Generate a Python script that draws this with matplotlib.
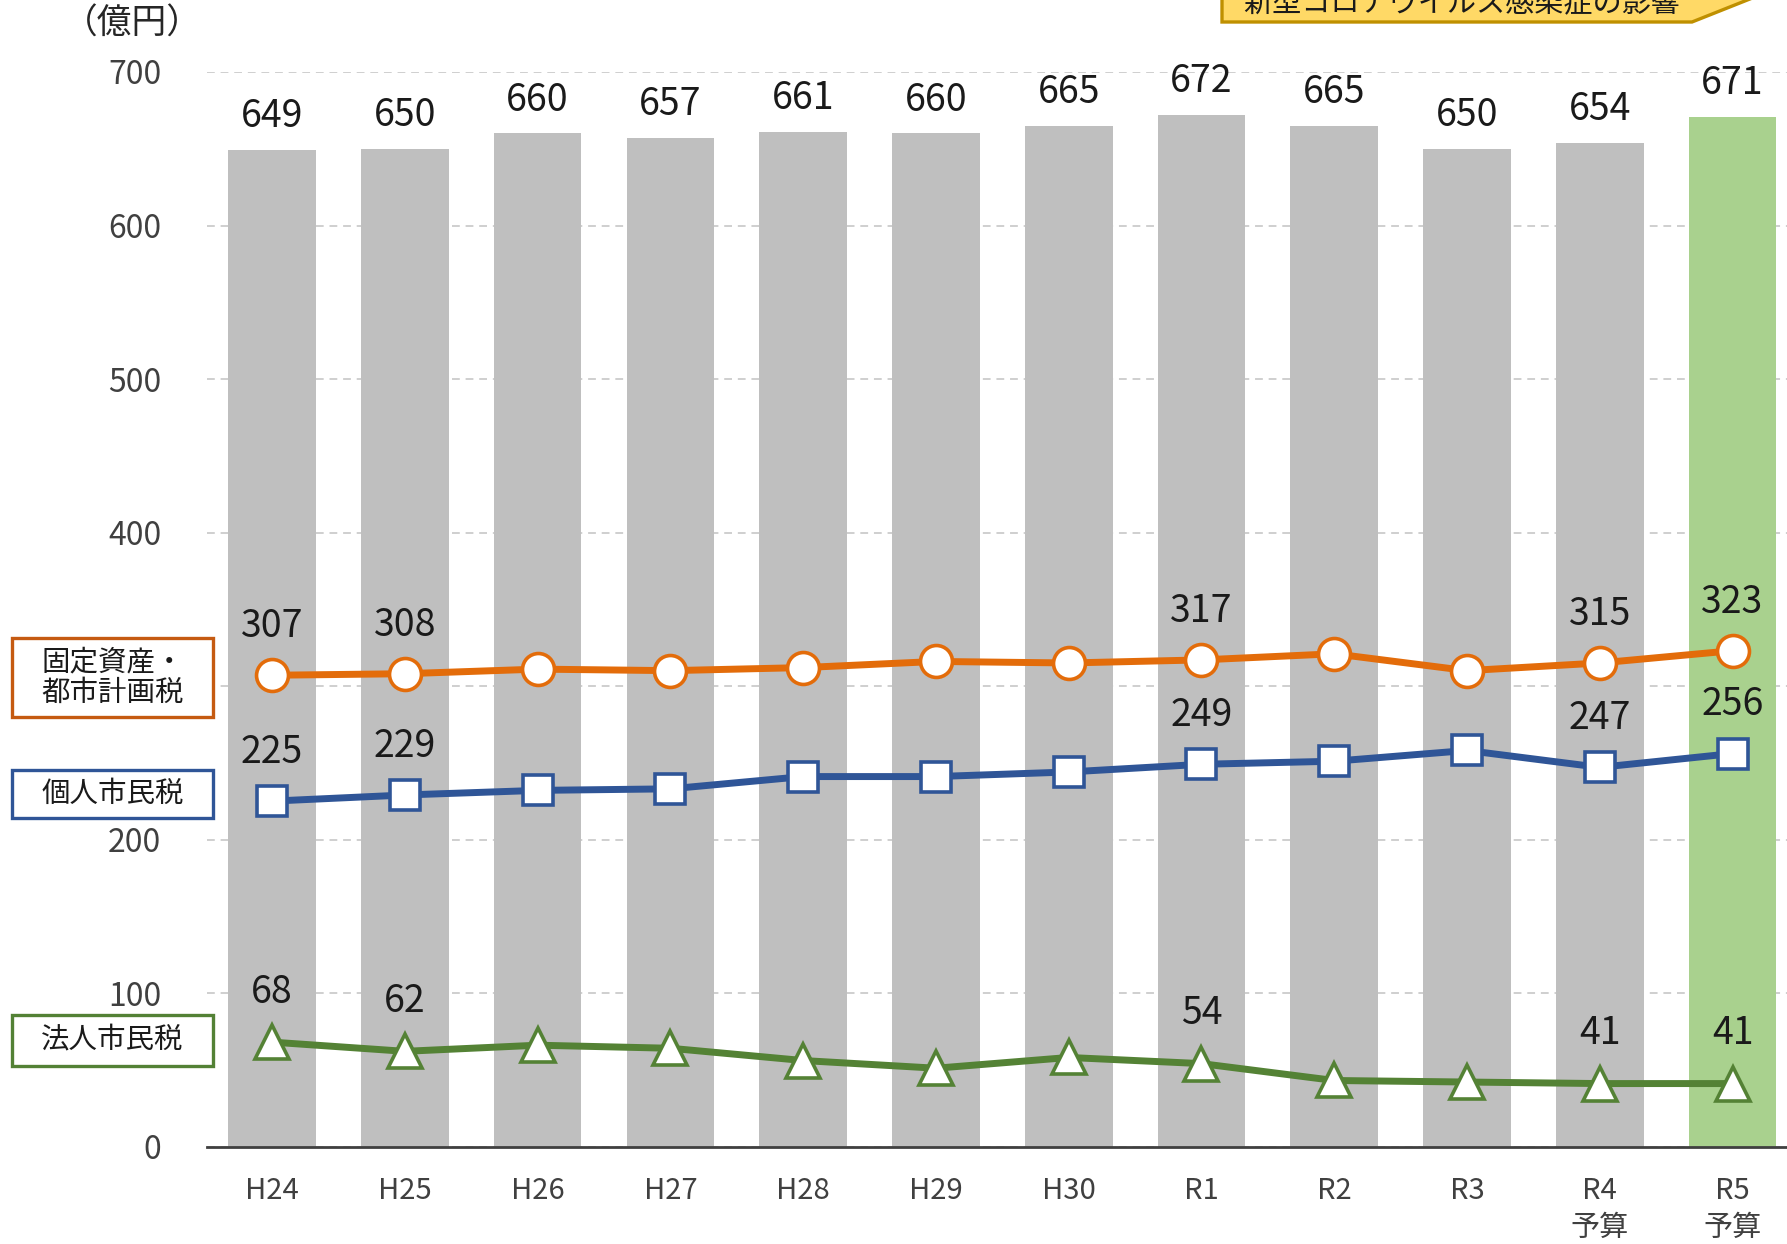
import matplotlib
matplotlib.use("Agg")
import matplotlib.pyplot as plt
from matplotlib.patches import Rectangle, Polygon

plt.rcParams['font.family'] = ['Noto Sans CJK JP', 'DejaVu Sans']

# ---- data (億円) ----
years = ["H24", "H25", "H26", "H27", "H28", "H29", "H30", "R1", "R2", "R3", "R4\n予算", "R5\n予算"]
total = [649, 650, 660, 657, 661, 660, 665, 672, 665, 650, 654, 671]
fixed_asset = [307, 308, 311, 310, 312, 316, 315, 317, 321, 310, 315, 323]
individual = [225, 229, 232, 233, 241, 241, 244, 249, 251, 258, 247, 256]
corporate = [68, 62, 66, 64, 56, 51, 58, 54, 43, 42, 41, 41]
labeled_idx = [0, 1, 7, 10, 11]
y_ticks = [0, 100, 200, 300, 400, 500, 600, 700]
y_tick_labels = ["0", "100", "200", "", "400", "500", "600", "700"]  # 300 sits behind the name box

W, H = 1787, 1244
fig = plt.figure(figsize=(W / 100, H / 100), dpi=100)


def fx(x):
    return x / W


def fy(y):
    return 1 - y / H


ax_left, ax_right, ax_top, ax_bottom = 207, 1787, 72, 1146.5
ax = fig.add_axes([fx(ax_left), fy(ax_bottom), fx(ax_right - ax_left), (ax_bottom - ax_top) / H])

x = list(range(len(years)))
bar_colors = ["#BFBFBF"] * (len(years) - 1) + ["#A9D18E"]
ax.bar(x, total, width=0.66, color=bar_colors, zorder=2)

for xi, v in zip(x, total):
    ax.annotate(str(v), (xi, v), xytext=(0, 24), textcoords="offset points",
                ha="center", va="center", fontsize=27, color="#1a1a1a", zorder=5)

orange, blue, green = "#E36C0A", "#2F5597", "#548235"
ax.plot(x, fixed_asset, color=orange, lw=5, marker="o", ms=23, mfc="white",
        mec=orange, mew=2.6, zorder=4)
ax.plot(x, individual, color=blue, lw=5, marker="s", ms=21, mfc="white",
        mec=blue, mew=2.6, zorder=4)
ax.plot(x, corporate, color=green, lw=5, marker="^", ms=24, mfc="white",
        mec=green, mew=2.6, zorder=4)

for series, off in ((fixed_asset, 35), (individual, 35), (corporate, 36)):
    for i in labeled_idx:
        ax.annotate(str(series[i]), (i, series[i]), xytext=(0, off),
                    textcoords="offset points", ha="center", va="center",
                    fontsize=27, color="#1a1a1a", zorder=5)

ax.set_xlim(-0.49, 11.41)
ax.set_ylim(0, 700)
ax.set_yticks(y_ticks)
ax.set_yticklabels(y_tick_labels, fontsize=23, color="#404040")
ax.set_xticks(x)
ax.set_xticklabels(years, fontsize=21, color="#404040", linespacing=1.3)
ax.tick_params(axis="x", length=0, pad=21)
ax.tick_params(axis="y", length=0, pad=33)
ax.yaxis.grid(True, color="#CFCFCF", lw=1.4, ls=(0, (4, 3)), zorder=1)
ax.set_axisbelow(True)
for s in ("left", "right", "top"):
    ax.spines[s].set_visible(False)
ax.spines["bottom"].set_color("#404040")
ax.spines["bottom"].set_linewidth(2)
ax.spines["bottom"].set_zorder(6)

# unit label
fig.text(fx(132), fy(24), "（億円）", fontsize=25, color="#262626", ha="center", va="center")

# series name boxes on the left
boxes = [
    ("固定資産・\n都市計画税", 677.5, 79, "#C55A11"),
    ("個人市民税", 794, 48, "#2F5597"),
    ("法人市民税", 1040.5, 51, "#538135"),
]
for label, cy, h, ec in boxes:
    fig.patches.append(Rectangle((fx(12), fy(cy + h / 2)), fx(201), h / H,
                                 transform=fig.transFigure, facecolor="white",
                                 edgecolor=ec, lw=2.4, zorder=3))
    fig.text(fx(112.5), fy(cy), label, fontsize=20.5, color="#1a1a1a", ha="center",
             va="center", linespacing=1.05, zorder=4)

# callout at the top right
pts = [(1222, -40), (1222, 22), (1692, 22), (1770, -9), (1692, -40)]
fig.patches.append(Polygon([(fx(px), fy(py)) for px, py in pts], closed=True,
                           transform=fig.transFigure, facecolor="#FFD966",
                           edgecolor="#BF9000", lw=2.4, zorder=3))
fig.text(fx(1462), fy(12), "新型コロナウイルス感染症の影響", fontsize=21,
         color="#1a1a1a", ha="center", va="baseline", zorder=4)

fig.savefig("out.png", dpi=100)
